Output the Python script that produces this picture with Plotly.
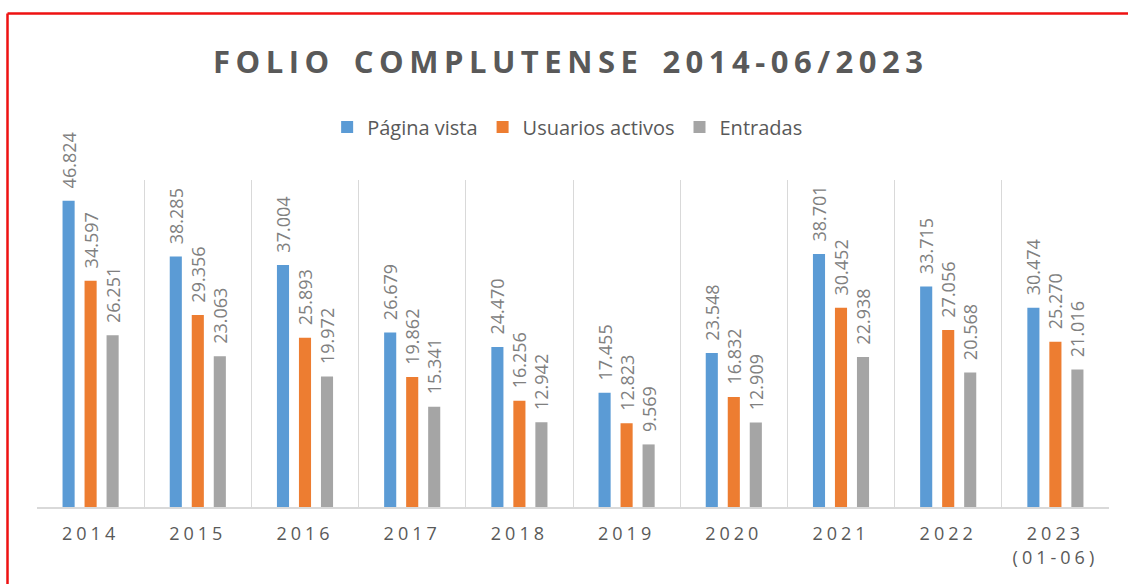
import plotly.graph_objects as go

categories = ["2014", "2015", "2016", "2017", "2018", "2019", "2020", "2021", "2022", "2023<br>(01-06)"]
pagina_vista = [46824, 38285, 37004, 26679, 24470, 17455, 23548, 38701, 33715, 30474]
usuarios_activos = [34597, 29356, 25893, 19862, 16256, 12823, 16832, 30452, 27056, 25270]
entradas = [26251, 23063, 19972, 15341, 12942, 9569, 12909, 22938, 20568, 21016]
title_words = ["FOLIO", "COMPLUTENSE", "2014-06/2023"]

series = [
    ("Página vista", pagina_vista, "#5b9bd5"),
    ("Usuarios activos", usuarios_activos, "#ed7d31"),
    ("Entradas", entradas, "#a5a5a5"),
]


def fmt(v):
    return "\u00a0\u00a0" + f"{v:,}".replace(",", ".")


def spaced(s, px):
    return "<br>".join(f'<span style="letter-spacing:{px}px">{part}</span>' for part in s.split("<br>"))


word_spans = [f'<span style="letter-spacing:5.5px">{w}</span>' for w in title_words]
title_text = "<b>" + '<span style="letter-spacing:11px">\u00a0</span>'.join(word_spans) + "</b>"

fig = go.Figure()
for name, vals, color in series:
    fig.add_trace(go.Bar(
        x=categories, y=vals, name=name,
        marker=dict(color=color, line=dict(width=0)),
        text=[fmt(v) for v in vals],
        textposition="outside", textangle=-90,
        constraintext="none", cliponaxis=False,
        textfont=dict(family="Open Sans", size=18, color="#808080"),
    ))

fig.update_layout(
    width=1128, height=584,
    margin=dict(l=37, r=19, t=180, b=77),
    paper_bgcolor="white", plot_bgcolor="white",
    barmode="group", bargap=0.384, bargroupgap=0.45,
    title=dict(
        text=title_text,
        x=0.506, xanchor="center", y=0.894, yanchor="middle",
        font=dict(family="Open Sans", size=31, color="#595959"),
    ),
    legend=dict(
        orientation="h", x=0.495, xanchor="center", y=1.162, yanchor="middle",
        font=dict(family="Open Sans", size=20, color="#595959"),
        itemsizing="constant",
    ),
    showlegend=True,
    xaxis=dict(
        tickson="boundaries", showgrid=True, gridcolor="#d9d9d9", gridwidth=1,
        showline=True, linecolor="#d9d9d9", linewidth=1.5,
        ticks="", tickfont=dict(family="Open Sans", size=18, color="#595959"),
        tickmode="array", tickvals=categories,
        ticktext=[spaced(c, 4) for c in categories],
        ticklabelstandoff=10,
        fixedrange=True,
    ),
    yaxis=dict(range=[0, 50000], visible=False, showgrid=False, zeroline=False, fixedrange=True),
    shapes=[
        dict(type="line", xref="paper", yref="paper",
             x0=(7.5 - 37) / 1072, x1=1.2, y0=(507 - 13.5) / 327, y1=(507 - 13.5) / 327,
             line=dict(color="#ee1111", width=2.5)),
        dict(type="line", xref="paper", yref="paper",
             x0=(7.5 - 37) / 1072, x1=(7.5 - 37) / 1072, y0=(507 - 13.5) / 327, y1=-0.5,
             line=dict(color="#ee1111", width=2.5)),
    ],
)

fig.write_html("out.html", config={"displayModeBar": False},
               post_script="document.body.style.margin='0';")
